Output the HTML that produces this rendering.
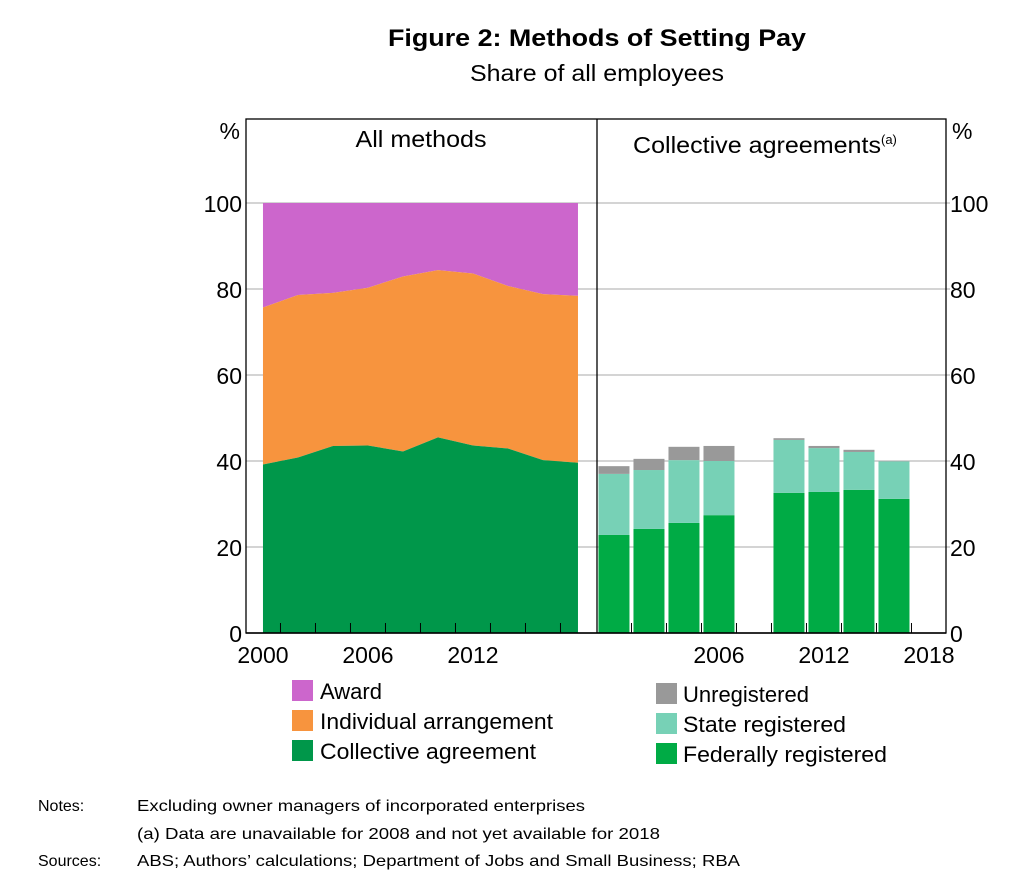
<!DOCTYPE html>
<html><head><meta charset="utf-8"><style>
body{margin:0;background:#fff}
svg{display:block;font-family:"Liberation Sans",sans-serif}
</style></head><body>
<svg id="chart" width="1011" height="886" viewBox="0 0 1011 886" xmlns="http://www.w3.org/2000/svg">
<text x="597" y="46" text-anchor="middle" font-size="24" font-weight="bold" textLength="418" lengthAdjust="spacingAndGlyphs">Figure 2: Methods of Setting Pay</text>
<text x="597" y="81" text-anchor="middle" font-size="23" textLength="254" lengthAdjust="spacingAndGlyphs">Share of all employees</text>
<g id="grid"></g>
<g id="left"></g>
<g id="right"></g>
<rect x="246" y="119" width="700" height="514" fill="none" stroke="#000" stroke-width="1.3"/>
<line x1="597" y1="119" x2="597" y2="633" stroke="#000" stroke-width="1.3"/>
<text x="421" y="147" text-anchor="middle" font-size="23" textLength="131" lengthAdjust="spacingAndGlyphs">All methods</text>
<text x="633" y="153" font-size="23"><tspan textLength="248" lengthAdjust="spacingAndGlyphs">Collective agreements</tspan><tspan font-size="13" dy="-9">(a)</tspan></text>
<text x="240" y="139" text-anchor="end" font-size="23">%</text>
<text x="952" y="139" font-size="23">%</text>
<g id="axes"></g>
<g font-size="22">
 <g><rect x="292" y="680" width="21" height="21" fill="#cc66cc"/><text x="320" y="699">Award</text></g>
 <g><rect x="292" y="710" width="21" height="21" fill="#f7943e"/><text x="320" y="729" textLength="233" lengthAdjust="spacingAndGlyphs">Individual arrangement</text></g>
 <g><rect x="292" y="740" width="21" height="21" fill="#00974a"/><text x="320" y="759" textLength="216" lengthAdjust="spacingAndGlyphs">Collective agreement</text></g>
</g>
<g font-size="22">
 <g><rect x="656" y="683" width="21" height="21" fill="#999999"/><text x="683" y="702">Unregistered</text></g>
 <g><rect x="656" y="713" width="21" height="21" fill="#77d1b6"/><text x="683" y="732" textLength="163" lengthAdjust="spacingAndGlyphs">State registered</text></g>
 <g><rect x="656" y="743" width="21" height="21" fill="#00ab45"/><text x="683" y="762" textLength="204" lengthAdjust="spacingAndGlyphs">Federally registered</text></g>
</g>
<g font-size="16">
 <text x="38" y="811">Notes:</text>
 <text x="137" y="811" textLength="448" lengthAdjust="spacingAndGlyphs">Excluding owner managers of incorporated enterprises</text>
 <text x="137" y="839" textLength="523" lengthAdjust="spacingAndGlyphs">(a) Data are unavailable for 2008 and not yet available for 2018</text>
 <text x="38" y="866">Sources:</text>
 <text x="137" y="866" textLength="603" lengthAdjust="spacingAndGlyphs">ABS; Authors’ calculations; Department of Jobs and Small Business; RBA</text>
</g>
</svg>
<script>
const areaYears=[2000,2002,2004,2006,2008,2010,2012,2014,2016,2018];
const collectiveShare=[39.2,40.8,43.5,43.6,42.2,45.5,43.6,42.9,40.2,39.6];
const individualShare=[36.5,37.8,35.6,36.7,40.7,38.9,40.0,37.8,38.6,38.8];
const awardShare=[24.3,21.4,20.9,19.7,17.1,15.6,16.4,19.3,21.2,21.6];
const barYears=[2000,2002,2004,2006,2010,2012,2014,2016];
const federalShare=[22.8,24.2,25.6,27.4,32.6,32.8,33.3,31.2];
const stateShare=[14.2,13.7,14.6,12.6,12.3,10.2,8.8,8.7];
const unregShare=[1.8,2.6,3.1,3.5,0.4,0.5,0.5,0.0];
const yTicks=[0,20,40,60,80,100];
const leftXLabels=[2000,2006,2012];
const rightXLabels=[2006,2012,2018];

const NS='http://www.w3.org/2000/svg';
const Y0=633,PPU=4.3,PPY=17.5,Y_ORIGIN=1999.03;
const y=v=>Y0-v*PPU;
const xL=yr=>246+(yr-Y_ORIGIN)*PPY;
const xR=yr=>597+(yr-Y_ORIGIN)*PPY;
function mk(tag,attrs,parent,text){const e=document.createElementNS(NS,tag);for(const k in attrs)e.setAttribute(k,attrs[k]);if(text!==undefined)e.textContent=text;parent.appendChild(e);return e;}

const grid=document.getElementById('grid');
yTicks.forEach(t=>{if(t>0){const l=mk('line',{x1:246,x2:950,y1:y(t),y2:y(t),stroke:'#aaaaaa','stroke-width':1},grid);

}});

const left=document.getElementById('left');
function band(lower,upper,color,name){
  let pts=areaYears.map((yr,i)=>xL(yr)+','+y(upper[i]));
  for(let i=areaYears.length-1;i>=0;i--)pts.push(xL(areaYears[i])+','+y(lower[i]));
  const p=mk('polygon',{points:pts.join(' '),fill:color},left);
  
  
}
const zero=areaYears.map(()=>0);
const c1=collectiveShare;
const c2=c1.map((v,i)=>v+individualShare[i]);
const c3=c2.map((v,i)=>v+awardShare[i]);
band(c2,c3,'#cc66cc','area-award');
band(c1,c2,'#f7943e','area-individual');
band(zero,c1,'#00974a','area-collective');

const right=document.getElementById('right');
const BW=31;
barYears.forEach((yr,i)=>{
  const cx=xR(yr);let base=0;
  [[federalShare[i],'#00ab45','federal'],[stateShare[i],'#77d1b6','state'],[unregShare[i],'#999999','unregistered']].forEach(([v,c,n])=>{
    if(v<=0)return;
    const r=mk('rect',{x:cx-BW/2,y:y(base+v),width:BW,height:v*PPU,fill:c},right);
    
    
    base+=v;
  });
});

const axes=document.getElementById('axes');
const ax=mk('line',{x1:246,x2:946,y1:Y0,y2:Y0,stroke:'#000','stroke-width':1.5},axes);


for(let yr=2001;yr<=2017;yr+=2){
  [xL(yr),xR(yr)].forEach(x=>{const t=mk('line',{x1:x,x2:x,y1:Y0,y2:Y0-10,stroke:'#000','stroke-width':1},axes);
  
  });
}
yTicks.forEach(t=>{
  const a=mk('text',{x:242,y:y(t)+9,'text-anchor':'end','font-size':23},axes,String(t));
  
  
  const b=mk('text',{x:950,y:y(t)+9,'font-size':23},axes,String(t));
  
  
});
leftXLabels.forEach(yr=>{const e=mk('text',{x:xL(yr),y:663,'text-anchor':'middle','font-size':23},axes,String(yr));

});
rightXLabels.forEach(yr=>{const e=mk('text',{x:xR(yr),y:663,'text-anchor':'middle','font-size':23},axes,String(yr));

});
</script>
</body></html>
